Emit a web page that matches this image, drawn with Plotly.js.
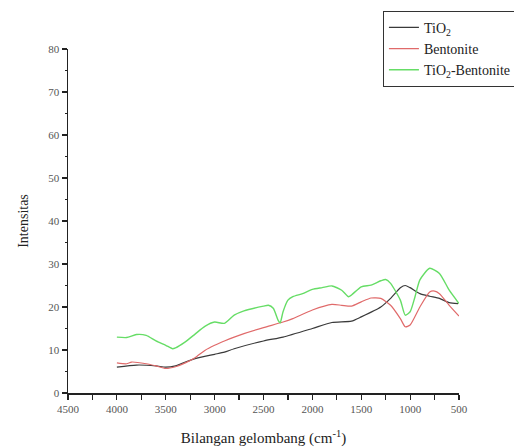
<!DOCTYPE html>
<html>
<head>
<meta charset="utf-8">
<script src="https://cdn.plot.ly/plotly-3.0.1.min.js"></script>
<style>html,body{margin:0;padding:0;background:#fff;}#chart{width:514px;height:447px;}</style>
</head>
<body>
<div id="chart"></div>
<script>
// Wavenumber (cm^-1) and intensity values
const tio2X = [4000,3800,3600,3500,3400,3300,3200,3000,2900,2800,2500,2300,2000,1800,1600,1500,1300,1200,1100,1050,1000,900,800,700,600,510];
const tio2Y = [6.0,6.5,6.3,6.0,6.3,7.2,8.0,9.0,9.5,10.3,12.1,13.0,15.0,16.4,16.7,17.7,20.0,22.0,24.5,25.0,24.5,23.1,22.5,22.0,21.0,20.8];

const bentX = [4000,3900,3850,3700,3600,3500,3400,3300,3200,3100,3000,2900,2800,2700,2500,2300,2200,2000,1800,1700,1600,1500,1400,1300,1200,1100,1050,1000,900,800,750,700,600,500];
const bentY = [7.0,6.8,7.2,6.8,6.3,5.7,6.1,7.0,8.2,9.9,11.1,12.1,13.0,13.8,15.2,16.5,17.3,19.3,20.6,20.4,20.2,21.2,22.1,22.0,20.4,17.3,15.4,15.8,20.0,23.5,23.7,23.1,20.4,17.9];

const compX = [4000,3900,3800,3700,3600,3500,3430,3400,3300,3200,3100,3000,2900,2800,2700,2500,2450,2400,2350,2330,2300,2250,2200,2100,2000,1900,1800,1700,1630,1600,1500,1400,1300,1250,1200,1100,1050,1000,950,900,800,700,600,500];
const compY = [13.0,12.9,13.6,13.4,12.1,11.1,10.3,10.5,11.9,13.7,15.5,16.5,16.2,18.1,19.1,20.2,20.4,19.7,16.9,16.3,18.9,21.6,22.4,23.1,24.1,24.5,24.9,23.9,22.4,22.8,24.7,25.1,26.1,26.4,25.5,21.6,18.1,18.9,22.4,26.3,29.0,27.8,23.9,20.8];

const seriesNames = ['TiO<sub>2</sub>', 'Bentonite', 'TiO<sub>2</sub>-Bentonite'];
const xTickVals = [4500,4000,3500,3000,2500,2000,1500,1000,500];
const yTickVals = [0,10,20,30,40,50,60,70,80];

const serif = 'Liberation Serif, Times New Roman, serif';

const traces = [
  {x: tio2X, y: tio2Y, name: seriesNames[0], mode: 'lines', line: {color: '#3a3a3a', width: 1.2, shape: 'spline', smoothing: 0.6}},
  {x: bentX, y: bentY, name: seriesNames[1], mode: 'lines', line: {color: '#e06a6a', width: 1.2, shape: 'spline', smoothing: 0.6}},
  {x: compX, y: compY, name: seriesNames[2], mode: 'lines', line: {color: '#66dd66', width: 1.4, shape: 'spline', smoothing: 0.6}}
];

const layout = {
  width: 514, height: 447,
  margin: {l: 68, r: 55, t: 49, b: 54, pad: 0, autoexpand: false},
  paper_bgcolor: '#fff', plot_bgcolor: '#fff',
  showlegend: true,
  legend: {
    xref: 'container', yref: 'container',
    x: 0.745, y: 0.976, xanchor: 'left', yanchor: 'top',
    bgcolor: '#fff', bordercolor: '#333', borderwidth: 1,
    font: {family: serif, size: 14, color: '#222'},
    tracegroupgap: 0, itemwidth: 30
  },
  xaxis: {
    range: [4500, 500], autorange: false, automargin: false,
    tickvals: xTickVals, ticktext: xTickVals.map(String),
    ticks: 'outside', ticklen: 5, tickwidth: 1.2, tickcolor: '#222',
    minor: {dtick: 250, tick0: 0, ticks: 'outside', ticklen: 5, tickwidth: 1.2, tickcolor: '#222'},
    showgrid: false, zeroline: false,
    showline: true, linecolor: '#222', linewidth: 1.5,
    tickfont: {family: serif, size: 11, color: '#555'},
    title: {text: 'Bilangan gelombang (cm<sup>-1</sup>)', font: {family: serif, size: 15, color: '#222'}, standoff: 20}
  },
  yaxis: {
    range: [0, 80], autorange: false, automargin: false,
    tickvals: yTickVals, ticktext: yTickVals.map(String),
    ticks: 'outside', ticklen: 5, tickwidth: 1.2, tickcolor: '#222',
    minor: {dtick: 5, tick0: 0, ticks: 'outside', ticklen: 2, tickwidth: 1.2, tickcolor: '#222'},
    showgrid: false, zeroline: false,
    showline: true, linecolor: '#222', linewidth: 1.5,
    tickfont: {family: serif, size: 11, color: '#555'},
    title: {text: 'Intensitas', font: {family: serif, size: 14, color: '#222'}, standoff: 16}
  }
};

Plotly.newPlot('chart', traces, layout, {displayModeBar: false, staticPlot: true});
</script>
</body>
</html>
